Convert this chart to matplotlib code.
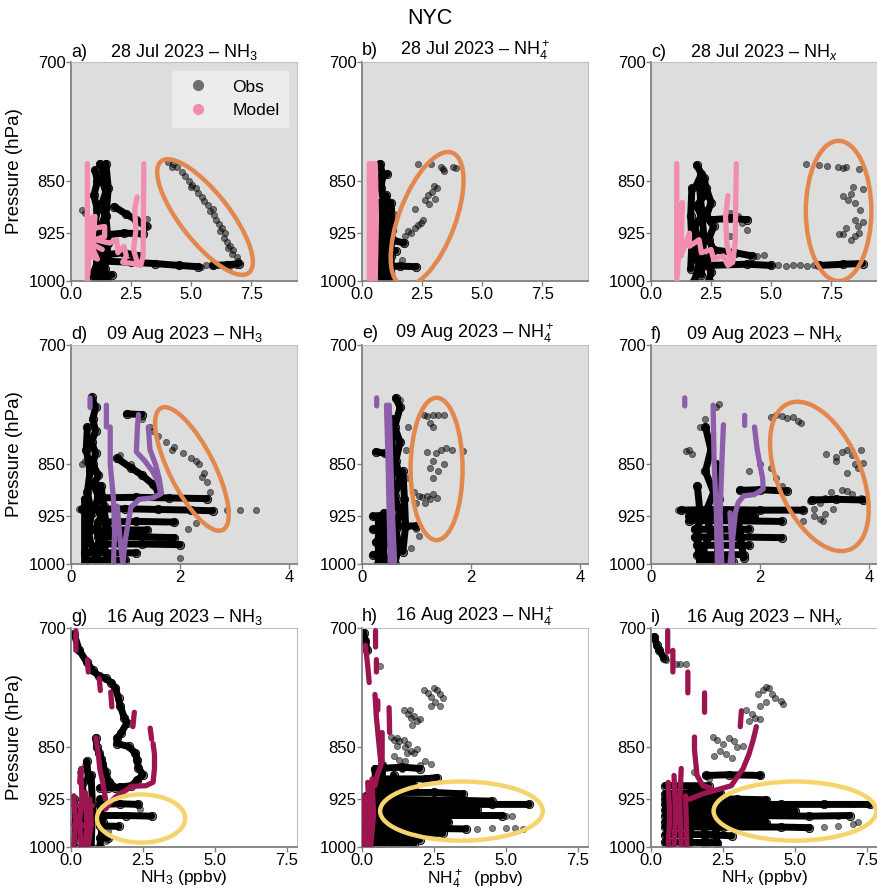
import numpy as np
import matplotlib
matplotlib.use("Agg")
import matplotlib.pyplot as plt
from matplotlib.patches import Ellipse
from matplotlib.lines import Line2D

plt.rcParams['font.family'] = ['Liberation Sans', 'DejaVu Sans']
plt.rcParams['mathtext.fontset'] = 'custom'
plt.rcParams['mathtext.rm'] = 'Liberation Sans'
plt.rcParams['mathtext.it'] = 'Liberation Sans:italic'

# ---- data: (value ppbv, pressure hPa); None breaks a track ----
dates = ['28 Jul 2023', '09 Aug 2023', '16 Aug 2023']
species = ['NH$_3$', 'NH$_4^+$', 'NH$_x$']
xlabels = ['NH$_3$ (ppbv)', 'NH$_4^+$  (ppbv)', 'NH$_x$ (ppbv)']
pressure_ticks = [700, 850, 925, 1000]

# a) 28 Jul NH3
a_obs = [(1.2, 826), (1.35, 835), (1.3, 850), (1.45, 865), (1.3, 880), (1.4, 900), (1.25, 915), (1.35, 935),
         (1.2, 955), (1.3, 975), (1.1, 990), (1.2, 1000), None,
         (1.0, 835), (1.1, 850), (0.95, 870), (1.1, 890), (1.0, 910), (1.15, 930), (1.0, 950), (1.1, 970),
         (0.95, 985), (1.05, 1000), None,
         (1.45, 826), (1.55, 860), (1.45, 900), (1.55, 940), (1.4, 980), (1.5, 1000), None,
         (0.9, 992), (1.7, 990), None,
         (1.8, 886), (2.3, 897), (2.7, 905), (3.1, 915), None,
         (1.3, 928), (2.2, 925), (3.0, 926), None,
         (1.5, 958), (2.2, 955), (2.8, 960), None,
         (1.3, 968), (2.5, 970), (3.5, 972), (4.5, 975), (5.3, 977), None,
         (5.9, 975), (6.5, 974), (7.0, 972)]
a_pts = [(4.05, 824), (4.25, 826), (4.4, 830), (4.6, 838), (4.75, 843), (4.9, 850), (5.05, 855), (5.2, 860),
         (5.3, 866), (5.45, 872), (5.55, 878), (5.7, 884), (5.8, 892), (5.95, 898), (6.05, 905), (6.15, 912),
         (6.3, 918), (6.4, 925), (6.35, 932), (6.5, 938), (6.6, 944), (6.75, 950), (6.7, 957), (6.9, 962),
         (6.95, 968), (6.85, 975), (6.6, 976), (6.3, 975), (5.4, 978), (5.6, 975), (0.45, 891), (0.6, 895),
         (3.15, 904), (3.2, 915), (4.2, 831), (5.0, 858), (5.9, 890), (6.2, 922), (6.55, 948)]
a_mod = [(0.68, 826), (0.68, 1000), None,
         (0.7, 990), (0.75, 950), (0.72, 925), (0.8, 905), (0.9, 918), (1.4, 915), (1.4, 930), (1.0, 935),
         (1.6, 940), (1.9, 935), (1.95, 955), (2.2, 945), (2.3, 960), (2.15, 970), (2.6, 972), (2.9, 975),
         (3.0, 960), (3.03, 826), None,
         (2.75, 872), (2.65, 890), (2.7, 920), (2.6, 950), (2.75, 970), None,
         (0.75, 905), (1.0, 900), (0.85, 960), (1.1, 965), (0.8, 940), (1.3, 950)]

# b) 28 Jul NH4+
b_obs = [(0.75, 826), (0.85, 840), (0.8, 860), (0.9, 880), (0.85, 900), (0.95, 920), (0.85, 940), (0.9, 960),
         (0.8, 980), (0.85, 1000), None,
         (0.65, 880), (0.7, 900), (0.65, 930), (0.7, 960), (0.65, 990), None,
         (1.0, 870), (1.15, 890), (1.0, 910), (1.15, 930), (1.0, 950), (1.1, 970), (1.0, 1000), None,
         (1.2, 880), (1.25, 920), (1.2, 960), (1.25, 1000), None,
         (0.8, 938), (1.3, 936), (1.75, 940), None,
         (0.9, 955), (1.4, 952), None,
         (0.9, 977), (1.6, 976), (2.25, 977), None,
         (0.8, 845), (1.05, 840)]
b_pts = [(2.33, 826), (2.87, 826), (3.27, 830), (3.4, 836), (3.8, 830), (3.9, 832), (3.0, 857), (3.13, 860),
         (2.73, 870), (2.6, 876), (2.8, 882), (2.2, 890), (2.47, 910), (2.35, 913), (2.2, 917), (1.93, 922),
         (1.8, 930), (1.33, 897), (1.67, 966), (2.9, 865), (3.05, 875), (2.55, 905), (2.05, 925), (3.35, 833)]
b_mod = [(0.3, 826), (0.3, 1000), None,
         (0.42, 826), (0.45, 1000), None,
         (0.55, 826), (0.6, 900), (0.55, 1000)]

# c) 28 Jul NHx
c_obs = [(1.9, 828), (2.1, 840), (1.9, 855), (2.2, 870), (1.9, 885), (2.1, 900), (1.8, 915), (2.0, 935),
         (1.8, 955), (2.0, 975), (1.8, 1000), None,
         (2.2, 845), (2.3, 860), (2.5, 880), (2.3, 900), (2.6, 915), (2.4, 935), (2.6, 950), (2.3, 970),
         (2.5, 985), (2.4, 1000), None,
         (1.7, 860), (1.65, 900), (1.7, 940), (1.65, 980), None,
         (2.0, 850), (2.1, 890), (2.2, 930), (2.1, 990), None,
         (2.5, 905), (3.3, 903), (4.0, 905), None,
         (2.5, 950), (3.5, 955), (4.2, 960), None,
         (2.3, 975), (4.0, 973), (5.0, 975), None,
         (7.0, 975), (8.0, 973), (8.8, 972)]
c_pts = [(6.46, 826), (7.0, 828), (7.3, 829), (7.77, 830), (7.98, 832), (8.1, 830), (8.67, 833), (8.4, 858),
         (8.8, 861), (8.0, 871), (8.2, 877), (8.5, 881), (8.7, 891), (8.5, 905), (8.8, 909), (8.1, 917),
         (7.97, 927), (8.5, 929), (7.84, 927), (8.3, 935), (8.65, 925), (8.3, 868), (8.6, 915),
         (5.3, 975), (5.6, 976), (5.9, 975), (6.2, 975), (6.5, 976), (6.8, 975),
         (3.3, 895), (3.6, 900), (3.8, 910), (4.0, 920), (3.3, 930), (4.4, 960), (4.7, 958)]
c_mod = [(1.07, 826), (1.07, 1000), None,
         (1.1, 990), (1.2, 920), (1.3, 880), (1.25, 960), (1.6, 925), (1.6, 945), (2.0, 935), (2.1, 955),
         (2.5, 950), (2.6, 965), (3.0, 960), (3.2, 975), (3.4, 970), (3.5, 940), (3.55, 826), None,
         (3.2, 870), (3.1, 900), (3.15, 940), (3.3, 965)]

# d) 09 Aug NH3
d_obs = [(0.38, 762), (0.45, 775), (0.4, 790), (0.45, 805), (0.38, 820), (0.45, 835), (0.4, 850), (0.5, 865),
         (0.42, 880), (0.5, 895), (0.45, 910), (0.55, 925), (0.45, 945), (0.55, 965), (0.45, 985), (0.5, 1000), None,
         (0.3, 800), (0.28, 830), (0.35, 860), (0.3, 890), (0.38, 920), (0.32, 950), (0.4, 980), None,
         (0.55, 880), (0.6, 910), (0.65, 940), (0.6, 970), (0.7, 1000), None,
         (0.25, 900), (0.25, 1000), None,
         (0.2, 915), (1.0, 914), (1.6, 915), (2.2, 916), (2.6, 917), None,
         (0.5, 898), (1.2, 897), (1.8, 898), (2.5, 899), None,
         (0.5, 934), (1.2, 933), (1.9, 934), None,
         (0.3, 946), (1.4, 946), None,
         (0.5, 957), (1.0, 956), (1.9, 958), None,
         (0.5, 968), (1.3, 968), (2.0, 969), None,
         (0.25, 982), (1.2, 982), None,
         (0.3, 994), (1.0, 994), None,
         (0.85, 842), (1.1, 855), (1.3, 865), (1.5, 878), (1.6, 888), None,
         (1.02, 783), (1.3, 784)]
d_pts = [(1.3, 790), (1.45, 800), (1.6, 812), (1.75, 820), (1.9, 826), (2.05, 835), (2.2, 842), (2.35, 850),
         (2.45, 862), (2.5, 875), (2.55, 890), (1.5, 805), (1.85, 830), (2.3, 845), (2.4, 868),
         (2.86, 916), (3.1, 916), (3.4, 916), (2.0, 990), (1.6, 962), (0.2, 850), (0.25, 845),
         (2.3, 935), (2.15, 945), (0.15, 915), (1.1, 850), (0.9, 838)]
d_mod = [(0.35, 763), (0.35, 775), None,
         (0.65, 772), (0.65, 800), None,
         (0.72, 800), (0.72, 850), (0.78, 900), (0.8, 950), (0.78, 1000), None,
         (0.85, 910), (0.9, 960), (0.95, 1000), None,
         (1.24, 784), (1.22, 800), (1.2, 833), (1.35, 845), (1.5, 860), (1.6, 875), (1.65, 892), (1.5, 898),
         (1.25, 900), (1.1, 912), (1.05, 935), (1.0, 960), (0.95, 1000), None,
         (1.42, 800), (1.45, 830), (1.55, 850), (1.62, 870), (1.66, 890)]

# e) 09 Aug NH4+
e_obs = [(0.62, 763), (0.7, 775), (0.6, 800), (0.7, 820), (0.62, 845), (0.7, 870), (0.6, 895), (0.7, 920),
         (0.62, 945), (0.68, 970), (0.6, 1000), None,
         (0.55, 790), (0.56, 850), (0.55, 900), (0.56, 950), (0.55, 1000), None,
         (0.75, 860), (0.78, 900), (0.8, 940), (0.75, 980), None,
         (0.2, 925), (0.35, 928), (0.45, 930), None,
         (0.2, 945), (0.45, 948), None,
         (0.25, 965), (0.45, 967), None,
         (0.2, 985), (0.45, 990), None,
         (0.3, 925), (0.3, 1000), None,
         (0.4, 920), (0.4, 1000), None,
         (0.25, 833), (0.43, 835), None,
         (0.6, 940), (1.0, 940)]
e_pts = [(1.13, 785), (1.2, 786), (1.3, 784), (1.4, 785), (1.5, 785), (1.25, 795), (1.3, 800),
         (1.19, 833), (1.3, 845), (1.35, 835), (1.45, 830), (1.55, 828), (1.65, 830), (1.85, 832), (1.25, 855),
         (1.4, 860), (1.3, 870), (1.5, 850), (0.95, 890), (1.05, 895), (1.1, 897), (1.2, 895), (1.3, 892),
         (1.37, 898), (1.0, 905), (1.15, 905), (1.25, 900), (1.0, 945), (1.05, 955), (0.9, 975),
         (0.85, 800), (0.8, 830), (0.85, 870), (0.7, 765)]
e_mod = [(0.27, 763), (0.27, 773), None,
         (0.45, 772), (0.48, 850), (0.5, 925), (0.52, 1000), None,
         (0.5, 772), (0.53, 850), (0.56, 925), (0.6, 1000)]

# f) 09 Aug NHx
f_obs = [(1.0, 800), (1.1, 830), (1.0, 860), (1.15, 890), (1.0, 920), (1.1, 950), (0.95, 980), (1.05, 1000), None,
         (0.85, 880), (0.9, 920), (0.85, 960), (0.9, 1000), None,
         (1.2, 850), (1.25, 900), (1.25, 950), (1.2, 1000), None,
         (0.55, 916), (1.2, 915), (2.0, 916), (2.8, 916), None,
         (0.7, 932), (1.5, 932), (2.4, 933), None,
         (0.8, 957), (1.6, 957), (2.4, 958), None,
         (0.8, 945), (1.8, 945), None,
         (0.7, 925), (1.9, 925), None,
         (1.63, 887), (2.0, 886), (2.5, 888), None,
         (0.85, 970), (1.8, 970), None,
         (0.85, 985), (1.7, 985), None,
         (0.9, 996), (1.5, 996), None,
         (1.6, 930), (1.7, 990), None,
         (2.95, 901), (3.4, 900), (3.9, 901)]
f_pts = [(2.2, 787), (2.3, 785), (2.4, 786), (2.5, 788), (2.6, 787), (2.7, 792), (2.75, 795),
         (3.22, 836), (3.4, 840), (3.5, 833), (3.6, 830), (3.7, 838), (3.85, 830), (3.75, 850), (3.8, 855),
         (3.9, 848), (3.6, 862), (3.4, 845), (2.92, 902), (3.0, 915), (3.1, 905), (3.2, 898), (3.3, 890),
         (3.5, 886), (3.6, 888), (3.7, 892), (3.85, 898), (3.0, 925), (3.1, 930), (3.2, 922), (3.35, 915),
         (1.2, 775), (1.25, 770), (1.0, 790), (0.9, 800), (0.7, 830), (0.65, 832), (0.75, 836),
         (2.0, 850), (2.3, 870), (1.8, 860), (2.2, 855), (2.4, 880), (2.8, 932), (3.15, 933), (0.5, 916)]
f_mod = [(0.62, 763), (0.62, 773), None,
         (1.14, 772), (1.16, 850), (1.2, 920), (1.22, 1000), None,
         (1.33, 797), (1.3, 850), (1.27, 920), (1.3, 1000), None,
         (1.45, 920), (1.5, 1000), None,
         (1.72, 785), (1.72, 798), None,
         (1.9, 800), (1.95, 830), (2.0, 850), (2.05, 870), (2.06, 885), (1.9, 893), (1.7, 895), (1.6, 905),
         (1.55, 920), (1.5, 960), (1.45, 1000)]

# g) 16 Aug NH3
g_obs = [(0.11, 707), (0.29, 726), (0.55, 740), (0.75, 750), (0.97, 757), (1.2, 760), (1.4, 765), (1.54, 772),
         (1.65, 785), (1.71, 795), (1.85, 810), (1.94, 817), (1.75, 830), (1.6, 838), (1.6, 845), (2.0, 849),
         (2.23, 858), (2.3, 868), (2.34, 879), (2.5, 889), (2.3, 897), (2.1, 905), (1.7, 907), (1.3, 908),
         (1.0, 908), None,
         (0.86, 837), (0.9, 850), (0.97, 858), (1.05, 866), (1.09, 873), (1.2, 885), (1.31, 899), (1.54, 908), None,
         (0.1, 925), (0.15, 960), (0.1, 1000), None,
         (0.4, 900), (0.45, 940), (0.4, 1000), None,
         (0.7, 890), (0.75, 940), (0.7, 1000), None,
         (1.0, 925), (1.1, 960), (1.0, 1000), None,
         (0.55, 870), (0.6, 895), None,
         (1.0, 933), (1.7, 932), (2.34, 933), None,
         (1.0, 950), (1.9, 950), (2.8, 951), None,
         (1.0, 966), (1.66, 967), None,
         (1.0, 985), (1.3, 985)]
g_pts = [(0.65, 748), (0.72, 750), (0.45, 880), (0.5, 875), (1.2, 990), (1.3, 975), (2.4, 940), (0.3, 885)]
g_mod = [(0.17, 703), (0.17, 726), None,
         (0.57, 737), (0.6, 752), None,
         (0.98, 760), (1.02, 775), None,
         (1.38, 777), (1.42, 796), None,
         (2.2, 803), (2.15, 822), None,
         (2.75, 824), (2.8, 839), None,
         (2.85, 845), (2.9, 860), (2.9, 880), (2.85, 900), (2.6, 905), (2.1, 906), (1.9, 912), (1.6, 920),
         (1.4, 928), (1.2, 940), None,
         (0.86, 837), (0.95, 860), (1.0, 880), (1.1, 900), (1.2, 925), None,
         (0.1, 920), (0.15, 960), (0.1, 1000), None,
         (0.3, 900), (0.34, 880), (0.38, 920), (0.3, 960), (0.35, 1000), None,
         (0.5, 915), (0.55, 960), (0.5, 1000), None,
         (0.65, 925), (0.7, 960), (0.6, 1000), None,
         (0.1, 935), (0.75, 935), None,
         (0.1, 965), (0.7, 965)]

# h) 16 Aug NH4+
h_obs = [(0.0, 705), (0.06, 706), (0.12, 715), (0.18, 726), None,
         (0.15, 920), (0.2, 960), (0.15, 1000), None,
         (0.45, 880), (0.5, 930), (0.45, 1000), None,
         (0.7, 875), (0.75, 930), (0.7, 1000), None,
         (1.1, 890), (1.2, 950), (1.1, 1000), None,
         (0.6, 880), (1.4, 878), (2.0, 880), None,
         (0.6, 895), (2.2, 895), (2.6, 893), None,
         (0.6, 905), (1.8, 905), None,
         (0.6, 915), (2.5, 915), (3.5, 917), None,
         (0.6, 925), (3.5, 927), (4.5, 928), None,
         (0.6, 933), (3.0, 933), (4.5, 933), (5.8, 933), None,
         (0.6, 942), (3.0, 942), (4.0, 942), None,
         (0.6, 950), (2.5, 950), (4.87, 950), None,
         (0.6, 960), (3.0, 960), None,
         (0.6, 970), (2.0, 970), (3.6, 971), None,
         (0.6, 978), (2.8, 978), None,
         (0.6, 985), (1.5, 985), (2.0, 988), None,
         (0.6, 994), (1.8, 995)]
h_pts = [(1.0, 836), (1.1, 840), (1.2, 838), (1.3, 842), (1.2, 848), (1.5, 850), (1.6, 846), (1.7, 855),
         (1.8, 858), (1.9, 852), (1.45, 840), (1.55, 858), (1.46, 800), (1.6, 805), (1.7, 810), (1.8, 808),
         (1.9, 815), (2.0, 812), (1.65, 800), (1.75, 820), (2.17, 775), (2.3, 778), (2.4, 783), (2.5, 772),
         (2.6, 775), (2.7, 780), (2.81, 785), (2.55, 790), (2.4, 795), (2.7, 795), (0.64, 745),
         (4.0, 971), (4.5, 970), (5.0, 969), (5.3, 970), (5.6, 971), (5.0, 950), (5.2, 951),
         (1.3, 868), (1.5, 870), (2.0, 875), (2.2, 870), (2.4, 873), (1.1, 862), (1.4, 880)]
h_mod = [(0.47, 703), (0.47, 722), None,
         (0.5, 737), (0.5, 752), None,
         (0.55, 788), (0.55, 800), None,
         (0.94, 797), (0.96, 830), None,
         (0.12, 720), (0.2, 745), (0.25, 765), None,
         (0.45, 780), (0.5, 810), (0.6, 850), (0.65, 870), None,
         (0.7, 830), (0.7, 870), (0.53, 890), (0.45, 905), None,
         (0.05, 920), (0.1, 960), (0.05, 1000), None,
         (0.2, 900), (0.25, 950), (0.2, 1000), None,
         (0.35, 895), (0.4, 950), (0.3, 1000)]

# i) 16 Aug NHx
i_obs = [(0.12, 710), (0.2, 720), (0.29, 726), (0.45, 735), None,
         (0.55, 920), (0.6, 960), (0.55, 1000), None,
         (1.3, 930), (1.4, 960), (1.3, 1000), None,
         (1.8, 940), (1.9, 1000), None,
         (2.2, 935), (2.3, 1000), None,
         (0.5, 905), (2.0, 905), None,
         (0.5, 917), (1.5, 915), (2.4, 916), None,
         (0.5, 925), (2.0, 924), (3.0, 925), (4.0, 926), None,
         (0.5, 933), (2.5, 933), (4.5, 933), (6.0, 933), (7.6, 933), None,
         (0.5, 942), (3.0, 942), (5.0, 943), None,
         (0.5, 950), (3.5, 950), (5.5, 951), (6.9, 950), None,
         (0.5, 960), (3.0, 960), (4.0, 961), None,
         (0.5, 968), (2.5, 968), (4.5, 968), (5.5, 969), None,
         (0.5, 980), (2.0, 980), (2.8, 982), None,
         (0.5, 992), (2.3, 993), None,
         (1.9, 890), (2.7, 889), (3.8, 890)]
i_pts = [(0.52, 738), (0.87, 742), (1.0, 742), (1.22, 742), (3.7, 780), (3.9, 775), (4.0, 770), (4.1, 772),
         (4.2, 780), (4.3, 785), (4.5, 788), (4.6, 792), (4.0, 790), (3.8, 795), (3.3, 800), (3.5, 805),
         (3.6, 810), (3.8, 812), (3.4, 815), (2.15, 836), (2.3, 840), (2.5, 845), (2.7, 838), (2.9, 842),
         (3.0, 850), (3.2, 848), (2.4, 855), (2.6, 860), (2.8, 865), (2.2, 862), (6.5, 966), (7.0, 964),
         (7.2, 960), (6.5, 950), (6.0, 968), (7.5, 933), (7.0, 933), (2.0, 895), (1.5, 885)]
i_mod = [(0.58, 703), (0.58, 728), None,
         (0.76, 726), (0.76, 752), None,
         (1.28, 752), (1.28, 778), None,
         (1.86, 778), (1.86, 803), None,
         (3.14, 801), (3.1, 822), None,
         (1.51, 836), (1.51, 853), (1.55, 870), (1.6, 890), (1.8, 905), (2.05, 908), None,
         (3.66, 822), (3.55, 840), (3.4, 860), (3.2, 880), (2.9, 898), (2.79, 905), (2.38, 910), (1.8, 917),
         (1.34, 925), None,
         (0.6, 900), (0.65, 950), (0.6, 1000), None,
         (0.8, 890), (0.85, 950), (0.8, 1000), None,
         (1.05, 880), (1.0, 930), (1.05, 1000), None,
         (1.2, 920), (1.25, 1000)]

obs_sets = [a_obs, b_obs, c_obs, d_obs, e_obs, f_obs, g_obs, h_obs, i_obs]
pts_sets = [a_pts, b_pts, c_pts, d_pts, e_pts, f_pts, g_pts, h_pts, i_pts]
mod_sets = [a_mod, b_mod, c_mod, d_mod, e_mod, f_mod, g_mod, h_mod, i_mod]

# ---- styling ----
row_model_color = ['#f28db2', '#8d5ea9', '#9c1550']
row_face = ['#dddddd', '#dddddd', 'white']
row_xlim = [9.4, 4.15, 7.85]
row_xticks = [[0, 2.5, 5, 7.5], [0, 2, 4], [0, 2.5, 5, 7.5]]
row_xticklabels = [['0.0', '2.5', '5.0', '7.5'], ['0', '2', '4'], ['0.0', '2.5', '5.0', '7.5']]
# highlight ellipses in axes fractions: (cx, cy, width, height, angle, color)
orange = '#e2884f'
yellow = '#f7d46b'
highlights = [(0.593, 0.292, 0.64, 0.22, -53, orange), (0.288, 0.283, 0.645, 0.25, 70, orange),
              (0.83, 0.32, 0.29, 0.64, 0, orange), (0.535, 0.434, 0.62, 0.20, -64, orange),
              (0.33, 0.434, 0.23, 0.65, 0, orange), (0.745, 0.40, 0.72, 0.37, -68, orange),
              (0.31, 0.13, 0.39, 0.22, 0, yellow), (0.44, 0.164, 0.72, 0.27, 0, yellow),
              (0.637, 0.164, 0.72, 0.27, 0, yellow)]

lefts = [71, 362, 651]
tops = [62, 345, 628]
W, H = 878, 892


def to_xy(track):
    x = np.array([np.nan if t is None else t[0] for t in track], dtype=float)
    p = np.array([np.nan if t is None else t[1] for t in track], dtype=float)
    return x, p


fig = plt.figure(figsize=(W / 100, H / 100), dpi=100)
fig.text(0.49, 1 - 18 / H, 'NYC', ha='center', va='center', fontsize=15.5)

letters = 'abcdefghi'
for k in range(9):
    r, c = divmod(k, 3)
    ax = fig.add_axes([lefts[c] / W, 1 - (tops[r] + 219) / H, 226 / W, 219 / H])
    ax.set_facecolor(row_face[r])

    ox, op = to_xy(obs_sets[k])
    ax.plot(ox, op, color='black', lw=5, solid_capstyle='round', solid_joinstyle='round', zorder=2)
    ax.plot(ox, op, ls='', marker='o', ms=6, mfc=(0, 0, 0, 0.5), mec='k', mew=0.6, zorder=2)
    px, pp = to_xy(pts_sets[k])
    ax.scatter(px, pp, s=20, c='k', alpha=0.5, edgecolors='k', linewidths=0.6, zorder=3)
    mx, mp = to_xy(mod_sets[k])
    ax.plot(mx, mp, color=row_model_color[r], lw=3.8, solid_capstyle='round',
            solid_joinstyle='round', zorder=4)

    cx, cy, ew, eh, ang, ecol = highlights[k]
    ax.add_patch(Ellipse((cx, cy), ew, eh, angle=ang, transform=ax.transAxes, fill=False,
                         edgecolor=ecol, lw=3.2, zorder=5))

    ax.set_yscale('log')
    ax.set_ylim(1000, 700)
    ax.set_yticks(pressure_ticks)
    ax.set_yticklabels([str(v) for v in pressure_ticks])
    ax.yaxis.set_minor_locator(matplotlib.ticker.NullLocator())
    ax.set_xlim(0, row_xlim[r])
    ax.set_xticks(row_xticks[r])
    ax.set_xticklabels(row_xticklabels[r])
    ax.tick_params(length=3.5, width=1, color='#808080', labelsize=12, pad=0.5)

    for side in ['left', 'bottom']:
        ax.spines[side].set_color('#808080')
        ax.spines[side].set_linewidth(1.3)
    for side in ['top', 'right']:
        ax.spines[side].set_color('#c0c0c0')
        ax.spines[side].set_linewidth(0.8)

    ax.set_title(letters[k] + ')', loc='left', fontsize=13, pad=2)
    ax.set_title(dates[r] + ' – ' + species[c], fontsize=13, pad=2)
    if c == 0:
        ax.set_ylabel('Pressure (hPa)', fontsize=13.5, labelpad=4)
    if r == 2:
        ax.set_xlabel(xlabels[c], fontsize=12.5, labelpad=0.5)

    if k == 0:
        handles = [Line2D([], [], marker='o', ls='', color='#6f6f6f', ms=7),
                   Line2D([], [], marker='o', ls='', color=row_model_color[0], ms=7)]
        ax.legend(handles, ['Obs', 'Model'], loc='upper right', fontsize=12.5, frameon=True,
                  facecolor='#ececec', edgecolor='#ececec', framealpha=1, handletextpad=1.0,
                  borderpad=0.5, labelspacing=0.5)

fig.savefig('out.png', dpi=100)
